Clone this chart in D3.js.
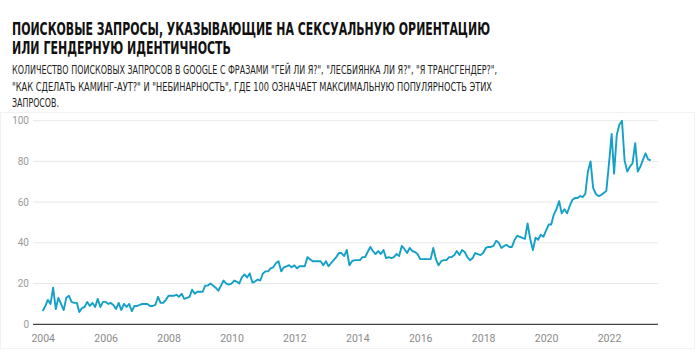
<!DOCTYPE html>
<html>
<head>
<meta charset="utf-8">
<script src="https://cdn.jsdelivr.net/npm/d3@7"></script>
<style>
  body { margin: 0; background: #fff; }
  svg { display: block; }
</style>
</head>
<body>
<svg width="698" height="352"></svg>
<script>
// Title and subtitle lines
const titleLines = ["ПОИСКОВЫЕ ЗАПРОСЫ, УКАЗЫВАЮЩИЕ НА СЕКСУАЛЬНУЮ ОРИЕНТАЦИЮ", "ИЛИ ГЕНДЕРНУЮ ИДЕНТИЧНОСТЬ"];
const subtitleLines = [
  "КОЛИЧЕСТВО ПОИСКОВЫХ ЗАПРОСОВ В GOOGLE С ФРАЗАМИ \"ГЕЙ ЛИ Я?\", \"ЛЕСБИЯНКА ЛИ Я?\", \"Я ТРАНСГЕНДЕР?\",",
  "\"КАК СДЕЛАТЬ КАМИНГ-АУТ?\" И \"НЕБИНАРНОСТЬ\", ГДЕ 100 ОЗНАЧАЕТ МАКСИМАЛЬНУЮ ПОПУЛЯРНОСТЬ ЭТИХ",
  "ЗАПРОСОВ."
];

// monthly values, one array per year
const v2004 = [6.5, 9, 12, 10, 18, 7.5, 13, 10, 7, 13, 14, 11];
const v2005 = [10.5, 10.5, 6, 8, 8.5, 11, 9, 10.5, 8.5, 12.5, 8.5, 11];
const v2006 = [11, 10, 10.5, 9.5, 7.5, 10.5, 7, 10, 8.5, 10, 6.5, 9];
const v2007 = [9, 9.5, 10, 10, 10, 9, 9, 9.5, 13.5, 10.5, 10.5, 12];
const v2008 = [14, 14, 14, 14.5, 13.5, 15, 12.5, 13, 13.5, 17, 15, 16];
const v2009 = [16, 16, 19, 19, 20, 19, 18, 16.5, 19, 21.5, 20, 19.5];
const v2010 = [20, 21.5, 21, 20, 23, 24.5, 23, 25, 20.5, 21, 22, 21.5];
const v2011 = [25, 26, 26, 27.5, 28, 30, 31, 26, 28, 28.5, 29, 28];
const v2012 = [29, 27.5, 28.5, 28.5, 28.5, 33, 32, 31, 31, 31, 31, 29];
const v2013 = [31, 28.5, 30, 31.5, 33, 35, 35, 33.5, 36.5, 29, 31, 31.5];
const v2014 = [31.5, 31.5, 33, 33, 35.5, 38, 36, 34.5, 36, 34.5, 36.5, 32.5];
const v2015 = [33, 32.5, 33, 34.5, 33.5, 38.5, 37, 35, 37.5, 36, 35.5, 34.5];
const v2016 = [32, 32, 32, 32, 32, 37.5, 32, 29, 31, 31.5, 31.5, 33];
const v2017 = [33, 34, 36, 34, 36.5, 35.5, 33, 31.5, 32.5, 35, 34.5, 34];
const v2018 = [35, 37.5, 38, 38, 38.5, 41, 40, 37.5, 38.5, 39, 38, 38];
const v2019 = [41.5, 43.5, 43, 42.5, 42, 49.5, 42, 36.5, 42.5, 41.5, 44, 43];
const v2020 = [46, 49, 49, 54, 56.5, 60.5, 54.5, 56.5, 54.5, 58, 61, 62];
const v2021 = [62, 63, 62.5, 64, 75, 80, 67, 64, 63, 63.5, 64.5, 65.5];
const v2022 = [79, 93.5, 74, 93, 98, 100, 80.5, 75, 77.5, 79, 89, 75];
const v2023 = [77.5, 81, 84, 81, 80.5];

const yearValues = [v2004, v2005, v2006, v2007, v2008, v2009, v2010, v2011, v2012, v2013,
  v2014, v2015, v2016, v2017, v2018, v2019, v2020, v2021, v2022, v2023];

const yTicks = [0, 20, 40, 60, 80, 100];
const xTickYears = [2004, 2006, 2008, 2010, 2012, 2014, 2016, 2018, 2020, 2022];

// flatten into {date, value}
const data = [];
yearValues.forEach((arr, i) => {
  arr.forEach((v, m) => data.push({ date: new Date(2004 + i, m, 1), value: v }));
});

const svg = d3.select("svg");

// faint frame around the chart area
svg.append("rect")
  .attr("x", 0.5).attr("y", 112.5)
  .attr("width", 694).attr("height", 236)
  .attr("fill", "none")
  .attr("stroke", "#f2f2f2");

// title
svg.append("g").selectAll("text")
  .data(titleLines)
  .join("text")
  .attr("x", 12)
  .attr("y", (d, i) => 34.5 + i * 19)
  .attr("font-family", "'Liberation Sans Narrow', 'DejaVu Sans Condensed', sans-serif")
  .attr("font-weight", "bold")
  .attr("font-size", 17)
  .attr("fill", "#111")
  .attr("textLength", (d, i) => i === 0 ? 478 : 219)
  .attr("lengthAdjust", "spacingAndGlyphs")
  .text(d => d);

// subtitle
svg.append("g").selectAll("text")
  .data(subtitleLines)
  .join("text")
  .attr("x", 12)
  .attr("y", (d, i) => 74 + i * 16.7)
  .attr("font-family", "'Liberation Sans Narrow', 'DejaVu Sans Condensed', sans-serif")
  .attr("font-size", 11.5)
  .attr("fill", "#222")
  .attr("textLength", (d, i) => [485, 480, 47][i])
  .attr("lengthAdjust", "spacingAndGlyphs")
  .text(d => d);

// scales
const x = d3.scaleTime()
  .domain([new Date(2004, 0, 1), new Date(2023, 6, 24)])
  .range([42.7, 658]);

const y = d3.scaleLinear()
  .domain([0, 100])
  .range([324.3, 120.7]);

const gridLeft = 33, gridRight = 658;

// gridlines
svg.append("g").selectAll("line")
  .data(yTicks.filter(d => d > 0))
  .join("line")
  .attr("x1", gridLeft).attr("x2", gridRight)
  .attr("y1", d => y(d)).attr("y2", d => y(d))
  .attr("stroke", "#e8e8e8")
  .attr("stroke-width", 1);

// y labels
svg.append("g").selectAll("text")
  .data(yTicks)
  .join("text")
  .attr("x", 29)
  .attr("y", d => y(d) + 3.5)
  .attr("text-anchor", "end")
  .attr("font-family", "Roboto, sans-serif")
  .attr("font-size", 10)
  .attr("fill", "#9a9a9a")
  .text(d => d);

// baseline
svg.append("line")
  .attr("x1", gridLeft).attr("x2", gridRight)
  .attr("y1", y(0)).attr("y2", y(0))
  .attr("stroke", "#444")
  .attr("stroke-width", 1.3);

// x axis labels
const xAxis = d3.axisBottom(x)
  .tickValues(xTickYears.map(yr => new Date(yr, 0, 1)))
  .tickFormat(d3.timeFormat("%Y"))
  .tickSize(0)
  .tickPadding(10);

const gx = svg.append("g")
  .attr("transform", `translate(0,${y(0)})`)
  .call(xAxis);
gx.select(".domain").remove();
gx.selectAll("text")
  .attr("font-family", "Roboto, sans-serif")
  .attr("font-size", 10.5)
  .attr("fill", "#8a8a8a");

// line
const line = d3.line()
  .x(d => x(d.date))
  .y(d => y(d.value));

svg.append("path")
  .datum(data)
  .attr("fill", "none")
  .attr("stroke", "#15a0c8")
  .attr("stroke-width", 1.9)
  .attr("stroke-linejoin", "round")
  .attr("d", line);
</script>
</body>
</html>
